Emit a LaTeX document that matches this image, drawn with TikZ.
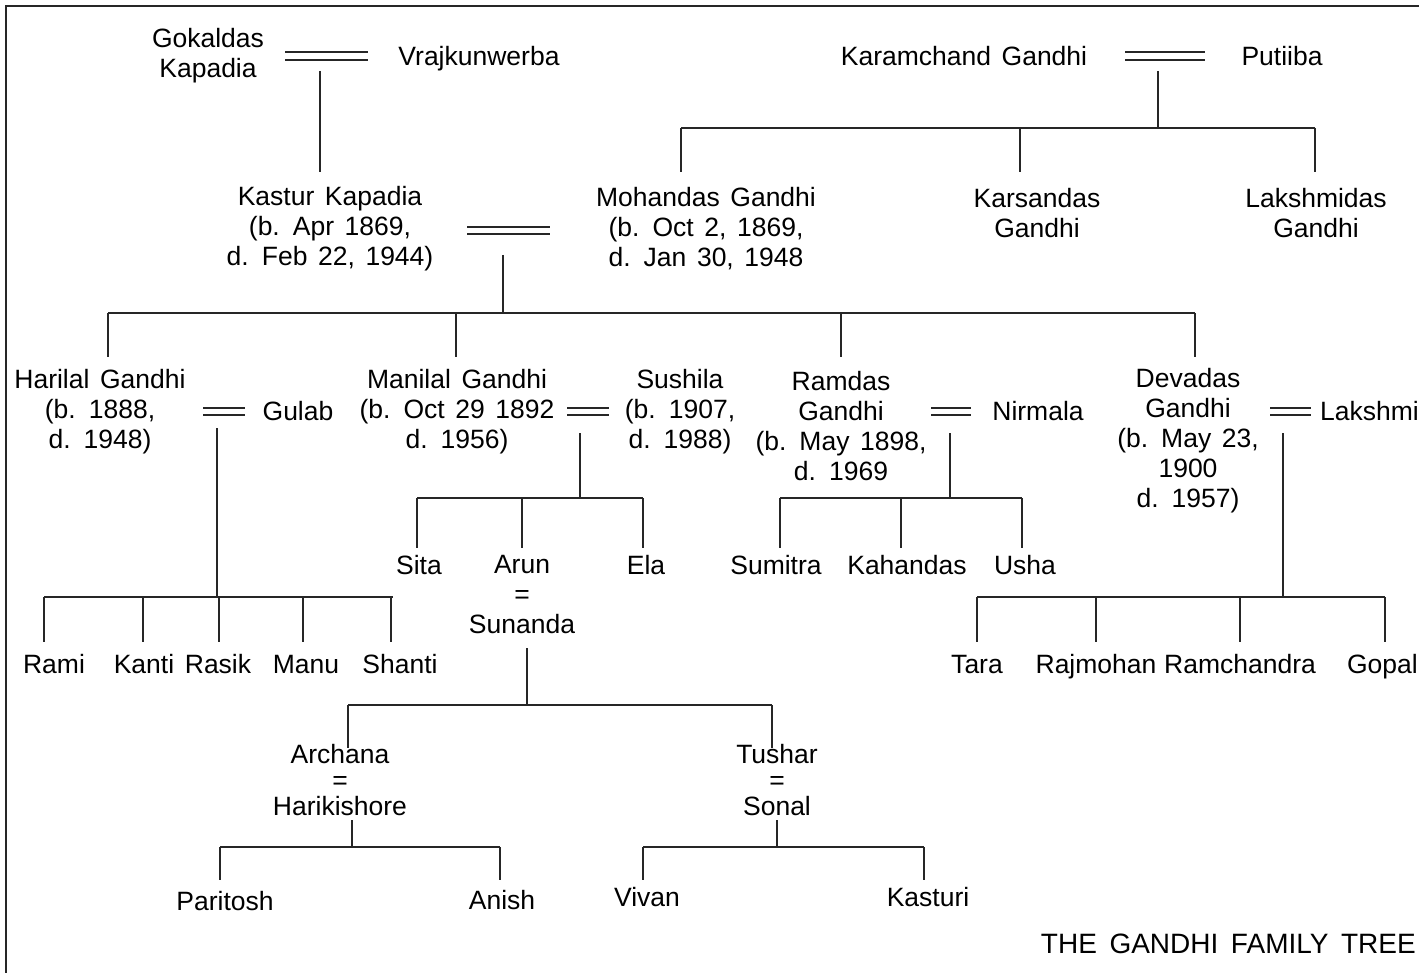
\documentclass[tikz,border=0pt]{standalone}
\usepackage{fontspec}
\setmainfont{Liberation Sans}
\newcommand{\pfont}{\fontsize{26.5}{30}\selectfont\spaceskip=0.4em plus 0.1em\relax}
\newcommand{\qfont}{\fontsize{26.5}{26}\selectfont}
\newcommand{\tfont}{\fontsize{28}{30}\selectfont\spaceskip=0.45em plus 0.1em\relax}
\begin{document}
\begin{tikzpicture}[x=1pt,y=-1pt,
  person/.style={inner sep=0pt, align=center, font=\pfont},
  couple/.style={inner sep=0pt, align=center, font=\qfont},
  one/.style={person, text height=19pt, text depth=0pt},
  title/.style={inner sep=0pt, text height=20pt, text depth=0pt, font=\tfont},
  ln/.style={line width=2pt, black!85},
  frame/.style={line width=2.4pt, black!85},
  dbl/.style={line width=2pt, black!85}]
\useasboundingbox (0,0) rectangle (1419,973);
% frame
\draw[frame] (6,973) -- (6,6) -- (1419,6);

% ---------- nodes ----------
\node[person] (gok) at (208,56) {Gokaldas\\Kapadia};
\node[one] (vraj) at (479,56) {Vrajkunwerba};
\node[one] (karam) at (964,56) {Karamchand Gandhi};
\node[one] (put) at (1282,56) {Putiiba};
\node[person] (kastur) at (330,229) {Kastur Kapadia\\(b. Apr 1869,\\d. Feb 22, 1944)};
\node[person] (mohan) at (706,229) {Mohandas Gandhi\\(b. Oct 2, 1869,\\d. Jan 30, 1948};
\node[person] (kars) at (1037,213) {Karsandas\\Gandhi};
\node[person] (laks) at (1316,213) {Lakshmidas\\Gandhi};

\node[person] (hari) at (100,412) {Harilal Gandhi\\(b. 1888,\\d. 1948)};
\node[one] (gulab) at (298,411) {Gulab};
\node[person] (mani) at (457,412) {Manilal Gandhi\\(b. Oct 29 1892\\d. 1956)};
\node[person] (sush) at (680,412) {Sushila\\(b. 1907,\\d. 1988)};
\node[person] (ram) at (841,426) {Ramdas\\Gandhi\\(b. May 1898,\\d. 1969};
\node[one] (nir) at (1038,411) {Nirmala};
\node[person] (deva) at (1188,441) {Devadas\\Gandhi\\(b. May 23,\\1900\\d. 1957)};
\node[one, anchor=west] (lakshmi) at (1320,411) {Lakshmi};

\node[one] (sita) at (419,565) {Sita};
\node[person] (arun) at (522,595) {Arun\\=\\Sunanda};
\node[one] (ela) at (646,565) {Ela};
\node[one] (sumitra) at (776,565) {Sumitra};
\node[one] (kahandas) at (907,565) {Kahandas};
\node[one] (usha) at (1025,565) {Usha};

\node[one] (rami) at (54,664) {Rami};
\node[one] (kanti) at (144,664) {Kanti};
\node[one] (rasik) at (218,664) {Rasik};
\node[one] (manu) at (306,664) {Manu};
\node[one] (shanti) at (400,664) {Shanti};

\node[one] (tara) at (977,664) {Tara};
\node[one] (rajmohan) at (1096,664) {Rajmohan};
\node[one] (ramch) at (1240,664) {Ramchandra};
\node[one, anchor=east] (gopal) at (1418,664) {Gopal};

\node[couple] (archana) at (340,780) {Archana\\=\\Harikishore};
\node[couple] (tushar) at (777,780) {Tushar\\=\\Sonal};

\node[one] (paritosh) at (225,901) {Paritosh};
\node[one] (anish) at (502,900) {Anish};
\node[one] (vivan) at (647,897) {Vivan};
\node[one] (kasturi) at (928,897) {Kasturi};

\node[title, anchor=east] (ttl) at (1416,943) {THE GANDHI FAMILY TREE};

% ---------- marriage double lines ----------
\draw[dbl] (285,52.5) -- (368,52.5) (285,60) -- (368,60);
\draw[dbl] (1125,52.5) -- (1205,52.5) (1125,60) -- (1205,60);
\draw[dbl] (467,227) -- (550,227) (467,234.5) -- (550,234.5);
\draw[dbl] (203,408) -- (245,408) (203,415.5) -- (245,415.5);
\draw[dbl] (567,408) -- (609,408) (567,415.5) -- (609,415.5);
\draw[dbl] (931,408) -- (971,408) (931,415.5) -- (971,415.5);
\draw[dbl] (1270,408) -- (1311,408) (1270,415.5) -- (1311,415.5);

% ---------- descent lines ----------
\draw[ln] (320,71) -- (320,172);

\draw[ln] (1158,71) -- (1158,128);
\draw[ln] (681,128) -- (1315,128);
\foreach \x in {681,1020,1315} \draw[ln] (\x,128) -- (\x,172);

\draw[ln] (503,255) -- (503,313);
\draw[ln] (108,313) -- (1195,313);
\foreach \x in {108,456,841,1195} \draw[ln] (\x,313) -- (\x,357);

\draw[ln] (217,428) -- (217,597);
\draw[ln] (44,597) -- (393,597);
\foreach \x in {44,143,219,303,391} \draw[ln] (\x,597) -- (\x,642);

\draw[ln] (580,433) -- (580,498);
\draw[ln] (417,498) -- (643,498);
\foreach \x in {417,522,643} \draw[ln] (\x,498) -- (\x,548);

\draw[ln] (950,433) -- (950,498);
\draw[ln] (780,498) -- (1022,498);
\foreach \x in {780,901,1022} \draw[ln] (\x,498) -- (\x,548);

\draw[ln] (1283,433) -- (1283,597);
\draw[ln] (977,597) -- (1385,597);
\foreach \x in {977,1096,1240,1385} \draw[ln] (\x,597) -- (\x,642);

\draw[ln] (527,648) -- (527,705);
\draw[ln] (348,705) -- (772,705);
\foreach \x in {348,772} \draw[ln] (\x,705) -- (\x,748);

\draw[ln] (352,820) -- (352,847);
\draw[ln] (220,847) -- (500,847);
\foreach \x in {220,500} \draw[ln] (\x,847) -- (\x,880);

\draw[ln] (777,820) -- (777,847);
\draw[ln] (643,847) -- (924,847);
\foreach \x in {643,924} \draw[ln] (\x,847) -- (\x,880);
\end{tikzpicture}
\end{document}
